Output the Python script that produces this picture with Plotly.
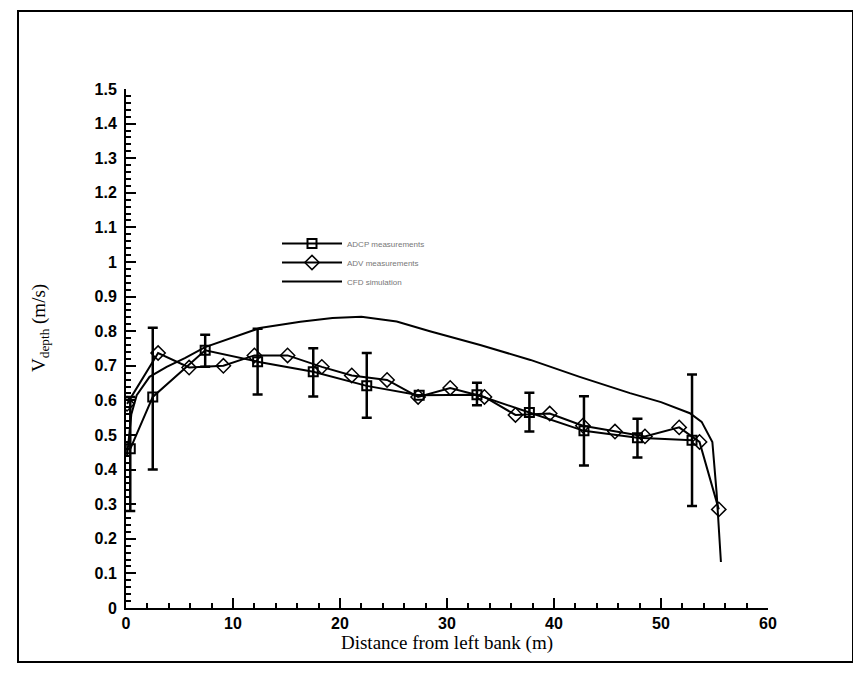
import plotly.graph_objects as go

# ADCP measurements (squares, with error bars)
adcp_x = [0.4, 2.5, 7.4, 12.3, 17.5, 22.5, 27.4, 32.8, 37.7, 42.8, 47.8, 52.9]
adcp_y = [0.46, 0.61, 0.745, 0.712, 0.683, 0.642, 0.615, 0.616, 0.565, 0.512, 0.492, 0.485]
adcp_err_plus = [0.15, 0.20, 0.045, 0.095, 0.068, 0.095, 0.0, 0.035, 0.057, 0.10, 0.055, 0.19]
adcp_err_minus = [0.18, 0.21, 0.048, 0.095, 0.072, 0.092, 0.0, 0.03, 0.055, 0.10, 0.057, 0.19]

# ADV measurements (diamonds)
adv_x = [0.1, 3.0, 5.9, 9.1, 12.0, 15.1, 18.3, 21.1, 24.4, 27.3, 30.3, 33.5, 36.4,
         39.6, 42.7, 45.7, 48.5, 51.7, 53.6, 55.4]
adv_y = [0.59, 0.737, 0.695, 0.70, 0.73, 0.73, 0.697, 0.672, 0.659, 0.61, 0.636, 0.61,
         0.558, 0.562, 0.527, 0.51, 0.496, 0.522, 0.48, 0.285]

# CFD simulation (line)
cfd_x = [0.1, 0.5, 1.0, 2.2, 3.8, 5.5, 7.4, 10.0, 12.5, 16.3, 19.3, 22.0, 25.3, 28.4,
         33.1, 37.8, 42.4, 47.1, 50.0, 52.7, 53.8, 54.8, 55.2, 55.6]
cfd_y = [0.44, 0.56, 0.615, 0.668, 0.697, 0.722, 0.754, 0.782, 0.809, 0.827, 0.838, 0.842,
         0.828, 0.80, 0.76, 0.717, 0.668, 0.621, 0.595, 0.563, 0.538, 0.48, 0.332, 0.133]

series_names = ["ADCP measurements", "ADV measurements", "CFD simulation"]

fig = go.Figure()

fig.add_trace(go.Scatter(
    x=adcp_x, y=adcp_y, name=series_names[0], mode="lines+markers",
    line=dict(color="black", width=2),
    marker=dict(symbol="square-open", size=9, color="black", line=dict(width=2)),
    error_y=dict(type="data", symmetric=False, array=adcp_err_plus,
                 arrayminus=adcp_err_minus, color="black", thickness=2.5, width=5),
))
fig.add_trace(go.Scatter(
    x=adv_x, y=adv_y, name=series_names[1], mode="lines+markers",
    line=dict(color="black", width=2),
    marker=dict(symbol="diamond-open", size=11, color="black", line=dict(width=1.5)),
))
fig.add_trace(go.Scatter(
    x=cfd_x, y=cfd_y, name=series_names[2], mode="lines",
    line=dict(color="black", width=2),
))

OFF = 8  # page body offset
W, H = 861, 676
L, R, T, B = 126 - OFF, 768 - OFF, 89 - OFF, 608 - OFF

def px(x):
    return (x - OFF - L) / (R - L)

def py(y):
    return (B - (y - OFF)) / (B - T)

fig.add_shape(type="rect", xref="paper", yref="paper",
              x0=px(18), x1=px(853), y0=py(662), y1=py(11),
              line=dict(color="black", width=2), fillcolor="rgba(0,0,0,0)")

fig.add_annotation(xref="paper", yref="paper", x=px(40), y=py(328),
                   text="V<sub>depth</sub> (m/s)", textangle=-90, showarrow=False,
                   xanchor="center", yanchor="middle",
                   font=dict(family="Liberation Serif, Times New Roman", size=19, color="black"))

axis_font = dict(family="Liberation Sans, Arial", size=16, color="black", weight="bold")

fig.update_layout(
    width=W, height=H,
    margin=dict(l=L, r=W - R, t=T, b=H - B),
    paper_bgcolor="white", plot_bgcolor="white",
    showlegend=True,
    legend=dict(x=px(277), y=py(229), xanchor="left", yanchor="top",
                bgcolor="rgba(0,0,0,0)",
                font=dict(family="Liberation Sans", size=8, color="#777"),
                tracegroupgap=0, itemwidth=60),
    xaxis=dict(range=[0, 60], dtick=10, tick0=0, showgrid=False, zeroline=False,
               showline=True, linecolor="black", linewidth=2,
               ticks="inside", ticklen=10, tickwidth=2, tickcolor="black",
               tickfont=axis_font,
               minor=dict(dtick=2, ticks="inside", ticklen=5, tickwidth=2, tickcolor="black"),
               title=dict(text="Distance from left bank (m)",
                          font=dict(family="Liberation Serif, Times New Roman", size=19, color="black"),
                          standoff=2)),
    yaxis=dict(range=[0, 1.5], dtick=0.1, tick0=0, showgrid=False, zeroline=False,
               showline=True, linecolor="black", linewidth=2,
               ticks="inside", ticklen=10, tickwidth=2, tickcolor="black",
               tickfont=axis_font, tickformat="~g", ticklabelstandoff=4,
               minor=dict(dtick=0.02, ticks="inside", ticklen=5, tickwidth=1.5, tickcolor="black")),
)

fig.write_html("out.html")
